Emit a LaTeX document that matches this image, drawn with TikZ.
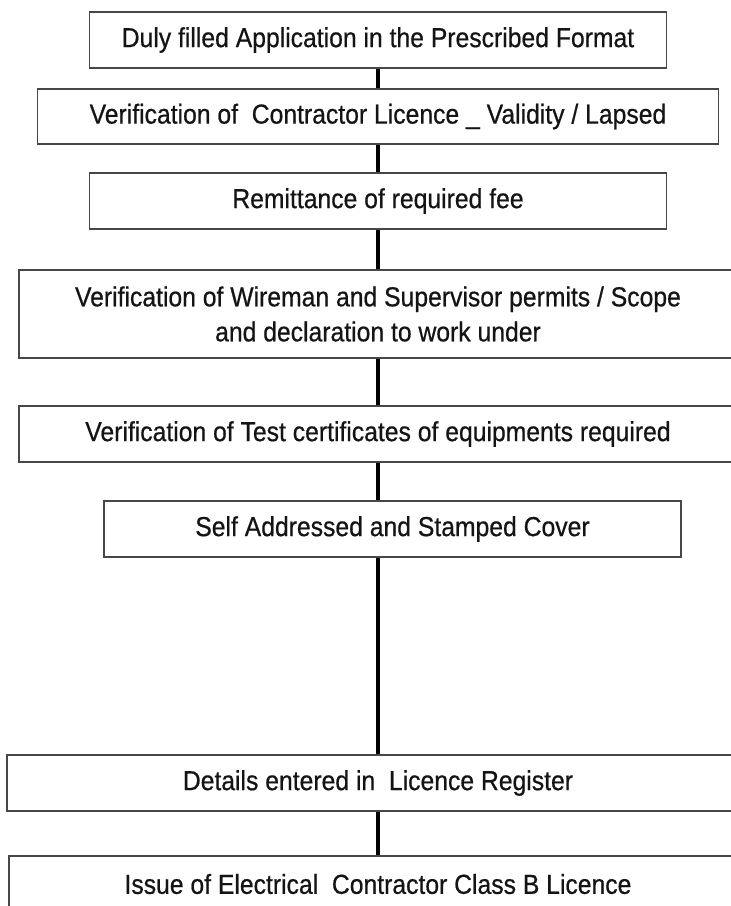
\documentclass[tikz,border=0pt]{standalone}
\usepackage{fontspec}
\setmainfont{Liberation Sans}[FakeStretch=0.9,FakeBold=0.6]
\begin{document}
\begin{tikzpicture}[x=0.75pt,y=-0.75pt,
  box/.style n args={2}{draw=black!72, line width=1.4pt, fill=white,
    minimum width={#1*0.75pt}, minimum height={#2*0.75pt}, inner sep=0pt,
    align=center, text=black!92, font=\fontsize{20.6}{26.25}\selectfont},
  conn/.style={line width=2.6pt, black}]
  \useasboundingbox (0,0) rectangle (731,906);
  \clip (0,0) rectangle (731,906);
  \fill[white] (0,0) rectangle (731,906);

  \node[box={577}{56}] (b1) at (378,40) {Duly filled Application in the Prescribed Format};
  \node[box={681}{55}] (b2) at (378,116.5) {Verification of~ Contractor Licence \_ Validity / Lapsed};
  \node[box={577}{56}] (b3) at (378,201) {Remittance of required fee};
  \node[box={718}{88}] (b4) at (378,314) {Verification of Wireman and Supervisor permits / Scope\\and declaration to work under};
  \node[box={718}{56}] (b5) at (378,434) {Verification of Test certificates of equipments required};
  \node[box={577}{56}] (b6) at (392.5,529) {Self Addressed and Stamped Cover};
  \node[box={742}{56}] (b7) at (378,783) {Details entered in~ Licence Register};
  \node[box={738}{56}] (b8) at (378,884) {Issue of Electrical~ Contractor Class B Licence};

  \draw[conn] (b1.south) -- (b2.north);
  \draw[conn] (b2.south) -- (b3.north);
  \draw[conn] (b3.south) -- (b4.north);
  \draw[conn] (b4.south) -- (b5.north);
  \draw[conn] (b5.south) -- (b5.south |- b6.north);
  \draw[conn] (b5.south |- b6.south) -- (b7.north);
  \draw[conn] (b7.south) -- (b8.north);
\end{tikzpicture}
\end{document}
